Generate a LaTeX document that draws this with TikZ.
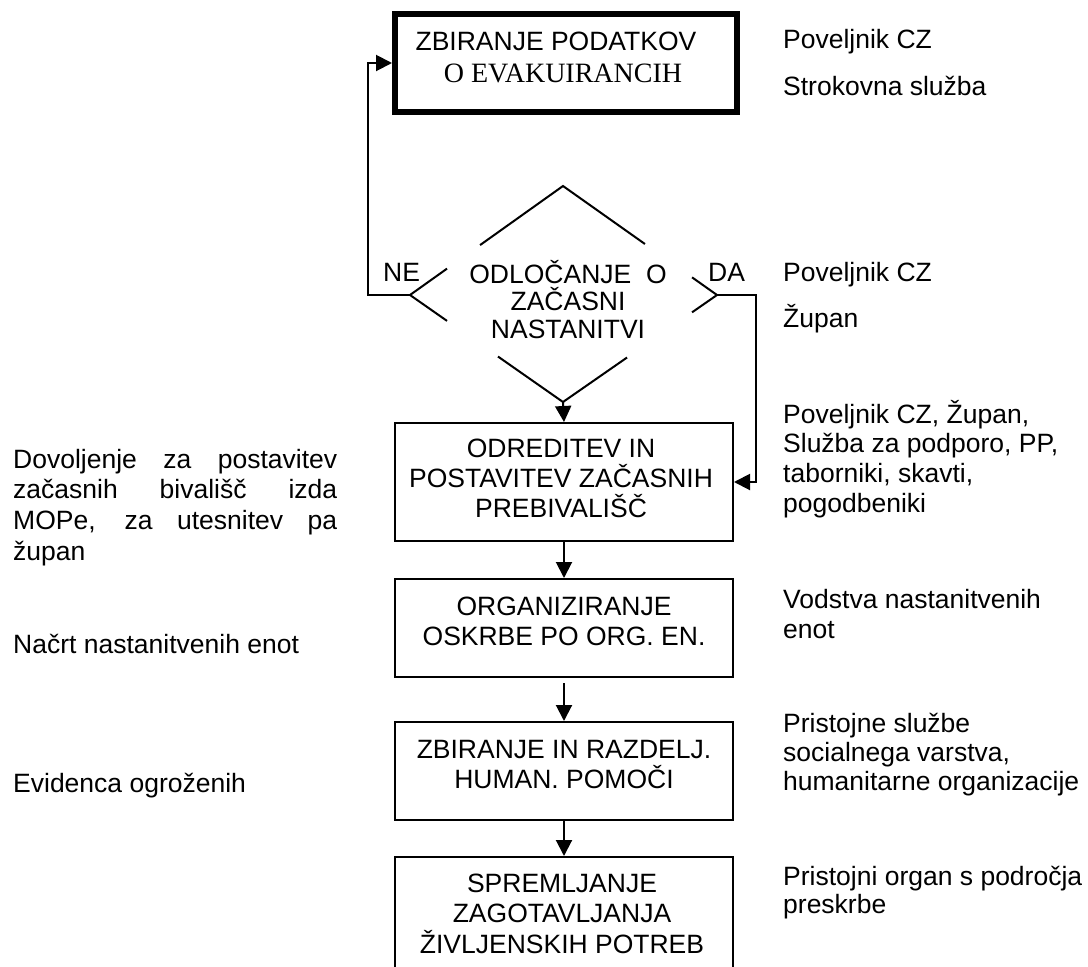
\documentclass[tikz,border=0pt]{standalone}
\usepackage{fontspec}
\setmainfont{Liberation Sans}
\newfontfamily\seriffam{Liberation Serif}
\usetikzlibrary{arrows.meta,calc}
\newcommand\Lc[2]{\vtop{\baselineskip=#1\lineskiplimit=-100pt\lineskip=0pt\halign{\hfil##\hfil\cr#2\crcr}}}
\newcommand\Ll[2]{\vtop{\baselineskip=#1\lineskiplimit=-100pt\lineskip=0pt\halign{##\hfil\cr#2\crcr}}}
\tikzset{
  thin/.style={line width=2pt},
  box/.style={draw, line width=2pt, inner sep=0pt},
  thickbox/.style={draw, line width=6pt, inner sep=0pt},
  arr/.style={line width=2pt, -{Triangle[length=16pt,width=16pt]}},
  txt/.style={inner sep=0pt, anchor=base west},
  ctxt/.style={inner sep=0pt, anchor=base},
  every node/.style={font=\fontsize{26.5}{30}\selectfont},
}
\begin{document}
\begin{tikzpicture}[x=1pt,y=-1pt]
\useasboundingbox (0,0) rectangle (1088,967);
\clip (0,0) rectangle (1088,967);
\fill[white] (0,0) rectangle (1088,967);

% boxes
\node[thickbox, minimum width=342pt, minimum height=98pt] (b1) at (566,63) {};
\node[box, minimum width=338pt, minimum height=118pt] (b2) at (564,482) {};
\node[box, minimum width=338pt, minimum height=98pt] (b3) at (564,628) {};
\node[box, minimum width=338pt, minimum height=98pt] (b4) at (564,771) {};
\node[box, minimum width=338pt, minimum height=118pt] (b5) at (564,916) {};

% box texts
\node[ctxt] (t1a) at (556,50) {ZBIRANJE PODATKOV};
\node[ctxt, font=\seriffam\fontsize{28}{30}\selectfont] (t1b) at (563,82) {O EVAKUIRANCIH};
\node[ctxt] (t2) at (561,457) {\Lc{30pt}{ODREDITEV IN\cr POSTAVITEV ZAČASNIH\cr PREBIVALIŠČ}};
\node[ctxt] (t3) at (564,615) {\Lc{30pt}{ORGANIZIRANJE\cr OSKRBE PO ORG. EN.}};
\node[ctxt] (t4) at (564,758) {\Lc{30pt}{ZBIRANJE IN RAZDELJ.\cr HUMAN. POMOČI}};
\node[ctxt] (t5) at (562,892) {\Lc{30.5pt}{SPREMLJANJE\cr ZAGOTAVLJANJA\cr ŽIVLJENSKIH POTREB}};

% diamond
\coordinate (dT) at (563,186);
\coordinate (dL) at (410,295);
\coordinate (dR) at (717,295);
\coordinate (dB) at (563,402);
\draw[thin] ($(dT)!0.542!(dL)$) -- (dT) -- ($(dT)!0.532!(dR)$);
\draw[thin] ($(dT)!0.758!(dL)$) -- (dL) -- ($(dL)!0.242!(dB)$);
\draw[thin] ($(dT)!0.838!(dR)$) -- (dR) -- ($(dR)!0.162!(dB)$);
\draw[thin] ($(dL)!0.575!(dB)$) -- (dB) -- ($(dR)!0.584!(dB)$);
\node[ctxt] (dtxt) at (568,283) {\Lc{27.5pt}{ODLOČANJE\ \ O\cr ZAČASNI\cr NASTANITVI}};
\node[txt] (ne) at (383,281) {NE};
\node[txt] (da) at (708,281) {DA};

% connectors
\coordinate (neC) at (368,295);
\coordinate (daC) at (756,295);
\draw[arr] (dL) -- (neC) |- (b1.west);
\draw[arr] (dR) -- (daC) |- (b2.east);
\draw[arr] (dB) -- (b2.north);
\draw[arr] (b2.south) -- (b3.north);
\draw[arr, shorten <=5pt] (b3.south) -- (b4.north);
\draw[arr] (b4.south) -- (b5.north);

% right texts
\node[txt] (r1) at (783,48) {Poveljnik CZ};
\node[txt] (r2) at (783,95) {Strokovna služba};
\node[txt] (r3) at (783,281) {Poveljnik CZ};
\node[txt] (r4) at (783,327) {Župan};
\node[txt] (r5) at (783,423) {\Ll{29.7pt}{Poveljnik CZ, Župan,\cr Služba za podporo, PP,\cr taborniki, skavti,\cr pogodbeniki}};
\node[txt] (r6) at (783,608) {\Ll{30pt}{Vodstva nastanitvenih\cr enot}};
\node[txt] (r7) at (783,732) {\Ll{29pt}{Pristojne službe\cr socialnega varstva,\cr humanitarne organizacije}};
\node[txt] (r8) at (783,885) {\Ll{28pt}{Pristojni organ s področja\cr preskrbe}};

% left texts
\node[txt] (l1) at (13,468) {\vtop{\baselineskip=30.7pt\lineskiplimit=-100pt\lineskip=0pt
  \hbox{\makebox[324pt][s]{Dovoljenje za postavitev}}
  \hbox{\makebox[324pt][s]{začasnih bivališč izda}}
  \hbox{\makebox[324pt][s]{MOPe, za utesnitev pa}}
  \hbox{župan}}};
\node[txt] (l2) at (13,653) {Načrt nastanitvenih enot};
\node[txt] (l3) at (13,792) {Evidenca ogroženih};
\end{tikzpicture}
\end{document}
